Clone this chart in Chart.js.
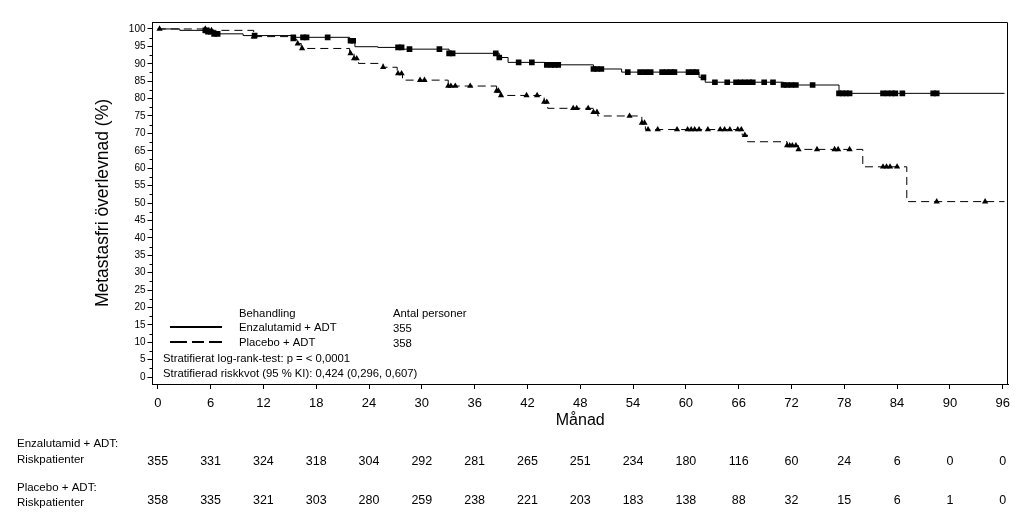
<!DOCTYPE html>
<html>
<head>
<meta charset="utf-8">
<script src="https://cdn.jsdelivr.net/npm/chart.js@4/dist/chart.umd.min.js"></script>
<style>
html,body{margin:0;padding:0;background:#fff;}
#wrap{width:1030px;height:515px;}
</style>
</head>
<body>
<div id="wrap"><canvas id="c" width="1030" height="515"></canvas></div>
<script>
// ---- Data ----
const xTicks = [0,6,12,18,24,30,36,42,48,54,60,66,72,78,84,90,96];
const yTicks = [0,5,10,15,20,25,30,35,40,45,50,55,60,65,70,75,80,85,90,95,100];
const yMinorTicks = [2.5,7.5,12.5,17.5,22.5,27.5,32.5,37.5,42.5,47.5,52.5,57.5,62.5,67.5,72.5,77.5,82.5,87.5,92.5,97.5];

// Enzalutamid + ADT Kaplan-Meier steps (month, survival %)
const enzTimes  = [0, 2.5, 5.5, 6.2, 9.7, 15.4, 21.8, 22.4, 25.0, 27.8, 33.1, 38.8, 39.8, 44.0, 49.5, 52.7, 61.5, 62.2, 71.1, 77.4, 96.2];
const enzValues = [100, 99.6, 99.2, 98.6, 98.1, 97.6, 96.6, 94.9, 94.7, 94.2, 93.0, 91.8, 90.4, 89.7, 88.5, 87.6, 86.1, 84.7, 83.9, 81.5, 81.5];
const enzCensor = [5.4, 5.7, 6.0, 6.4, 6.8, 11.0, 15.4, 16.5, 16.9, 19.3, 21.9, 22.2, 27.3, 27.7, 28.6, 32.0, 33.1, 33.5, 38.4, 38.8, 41.0, 42.5, 44.2, 44.7, 45.1, 45.5, 49.5, 49.9, 50.4, 53.4, 54.8, 55.4, 56.0, 57.3, 57.8, 58.3, 58.7, 60.3, 60.8, 61.2, 62.0, 63.3, 64.7, 65.7, 66.2, 66.7, 67.2, 67.6, 68.9, 69.9, 71.1, 71.5, 72.0, 72.5, 74.4, 77.4, 77.8, 78.2, 78.6, 82.4, 82.9, 83.4, 83.8, 84.6, 88.1, 88.5];

// Placebo + ADT Kaplan-Meier steps (month, survival %)
const plaTimes  = [0, 5.6, 10.9, 15.3, 15.8, 16.3, 21.8, 22.3, 22.8, 25.6, 27.2, 27.8, 33.0, 38.5, 38.9, 43.9, 44.3, 49.5, 50.0, 55.0, 55.4, 66.4, 67.0, 71.5, 72.8, 80.1, 85.1, 96.2];
const plaValues = [100, 99.6, 97.8, 97.0, 95.8, 94.4, 93.0, 91.5, 90.1, 89.0, 87.2, 85.3, 83.6, 82.2, 80.9, 79.0, 77.2, 76.1, 75.0, 73.0, 71.1, 69.5, 67.6, 66.5, 65.4, 60.4, 50.4, 50.4];
const plaCensor = [0.2, 5.4, 5.8, 6.1, 10.9, 15.4, 15.9, 16.4, 21.9, 22.3, 22.6, 25.6, 27.3, 27.7, 29.8, 30.3, 33.0, 33.3, 33.8, 35.5, 38.5, 38.7, 39.0, 41.9, 43.1, 43.9, 44.2, 47.2, 47.6, 48.9, 49.5, 49.9, 53.6, 55.0, 55.3, 55.7, 56.8, 59.0, 60.2, 60.6, 61.0, 61.5, 62.5, 63.9, 64.4, 65.0, 65.9, 66.3, 66.7, 71.5, 71.8, 72.1, 72.5, 72.8, 74.9, 76.9, 77.3, 78.6, 82.4, 82.8, 83.2, 84.0, 88.5, 94.0];

// Numbers at risk
const riskTimes = [0,6,12,18,24,30,36,42,48,54,60,66,72,78,84,90,96];
const enzRisk = [355,331,324,318,304,292,281,265,251,234,180,116,60,24,6,0,0];
const plaRisk = [358,335,321,303,280,259,238,221,203,183,138,88,32,15,6,1,0];

// ---- Helpers ----
function toPts(ts, vs){ return ts.map((t,i)=>({x:t, y:vs[i]})); }
function stepValue(ts, vs, t){ let v = vs[0]; for (let i=0;i<ts.length;i++){ if (ts[i] <= t) v = vs[i]; } return v; }
function censorPts(cs, ts, vs){ return cs.map(t=>({x:t, y:stepValue(ts, vs, t)})); }

const FONT = "'Liberation Sans', Arial, sans-serif";

const overlay = {
  id: 'overlay',
  afterDraw(chart) {
    const {ctx, chartArea: a, scales: {x, y}} = chart;
    ctx.save();
    ctx.strokeStyle = '#000';
    ctx.fillStyle = '#000';
    ctx.lineWidth = 1;
    // top and right frame
    ctx.beginPath();
    ctx.moveTo(a.left, Math.round(a.top) + 0.5);
    ctx.lineTo(Math.round(a.right) - 0.5, Math.round(a.top) + 0.5);
    ctx.lineTo(Math.round(a.right) - 0.5, a.bottom);
    ctx.stroke();
    // minor y ticks
    ctx.beginPath();
    yMinorTicks.forEach(v => {
      const py = Math.round(y.getPixelForValue(v)) + 0.5;
      ctx.moveTo(a.left - 3, py);
      ctx.lineTo(a.left, py);
    });
    ctx.stroke();

    // legend box inside plot
    ctx.font = '11.3px ' + FONT;
    ctx.textBaseline = 'middle';
    ctx.textAlign = 'left';
    ctx.fillText('Behandling', 239, 314);
    ctx.fillText('Antal personer', 393, 314);
    ctx.fillText('Enzalutamid + ADT', 239, 328);
    ctx.fillText('Placebo + ADT', 239, 343);
    ctx.fillText(String(enzRisk[0]), 393, 329);
    ctx.fillText(String(plaRisk[0]), 393, 344);
    ctx.fillText('Stratifierat log-rank-test: p = < 0,0001', 163, 359);
    ctx.fillText('Stratifierad riskkvot (95 % KI): 0,424 (0,296, 0,607)', 163, 374);

    ctx.lineWidth = 2;
    ctx.beginPath();
    ctx.moveTo(170, 327); ctx.lineTo(222, 327);
    ctx.stroke();
    ctx.setLineDash([17,5,12,5]);
    ctx.beginPath();
    ctx.moveTo(170, 342); ctx.lineTo(222, 342);
    ctx.stroke();
    ctx.setLineDash([]);

    // risk table
    ctx.font = '11.5px ' + FONT;
    ctx.fillText('Enzalutamid + ADT:', 17, 444);
    ctx.fillText('Riskpatienter', 17, 460);
    ctx.fillText('Placebo + ADT:', 17, 488);
    ctx.fillText('Riskpatienter', 17, 503);
    ctx.font = '12.5px ' + FONT;
    ctx.textAlign = 'center';
    riskTimes.forEach((t,i) => {
      const px = x.getPixelForValue(t);
      ctx.fillText(String(enzRisk[i]), px, 462);
      ctx.fillText(String(plaRisk[i]), px, 501);
    });
    ctx.restore();
  }
};

new Chart(document.getElementById('c'), {
  type: 'line',
  data: {
    datasets: [
      { label: 'Enzalutamid + ADT', data: toPts(enzTimes, enzValues), stepped: 'before',
        borderColor: '#000', borderWidth: 1, pointRadius: 0, fill: false },
      { label: 'Placebo + ADT', data: toPts(plaTimes, plaValues), stepped: 'before',
        borderColor: '#000', borderWidth: 1, borderDash: [8,5], pointRadius: 0, fill: false },
      { label: 'Enz censur', data: censorPts(enzCensor, enzTimes, enzValues), showLine: false,
        pointStyle: 'rect', pointRadius: 4, backgroundColor: '#000', borderColor: '#000', borderWidth: 0 },
      { label: 'Pla censur', data: censorPts(plaCensor, plaTimes, plaValues), showLine: false,
        pointStyle: 'triangle', pointRadius: 3.6, backgroundColor: '#000', borderColor: '#000', borderWidth: 0 }
    ]
  },
  options: {
    responsive: false,
    animation: false,
    events: [],
    layout: { padding: { top: 22, right: 22, left: 0, bottom: 0 } },
    plugins: { legend: { display: false }, tooltip: { enabled: false } },
    scales: {
      x: {
        type: 'linear', min: -0.6, max: 96.6,
        afterBuildTicks: s => { s.ticks = xTicks.map(v => ({value: v})); },
        afterFit: s => { s.height = 131; },
        grid: { drawOnChartArea: false, drawTicks: true, tickLength: 5, color: '#000', tickColor: '#000' },
        border: { display: true, color: '#000', width: 1 },
        ticks: { color: '#000', font: { family: FONT, size: 13 }, padding: 7, maxRotation: 0, autoSkip: false },
        title: { display: true, text: 'Månad', color: '#000', font: { family: FONT, size: 16 }, padding: { top: 0, bottom: 85 } }
      },
      y: {
        type: 'linear', min: -2, max: 102,
        afterBuildTicks: s => { s.ticks = yTicks.map(v => ({value: v})); },
        afterFit: s => { s.width = 152.5; },
        grid: { drawOnChartArea: false, drawTicks: true, tickLength: 5, color: '#000', tickColor: '#000' },
        border: { display: true, color: '#000', width: 1 },
        ticks: { color: '#000', font: { family: FONT, size: 10 }, padding: 2, autoSkip: false },
        title: { display: true, text: 'Metastasfri överlevnad (%)', color: '#000', font: { family: FONT, size: 17.5 }, padding: { top: 93, bottom: 0 } }
      }
    }
  },
  plugins: [overlay]
});
</script>
</body>
</html>
